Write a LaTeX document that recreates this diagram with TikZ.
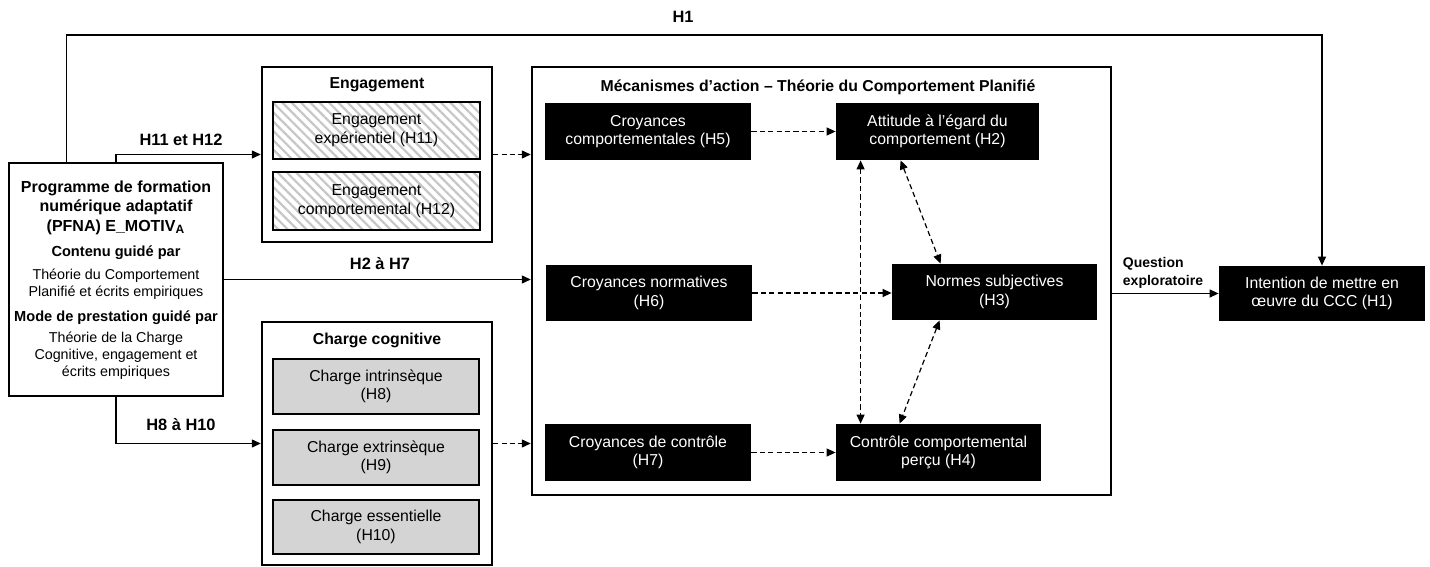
\documentclass[tikz,border=0pt]{standalone}
\usepackage{fontspec}
\setmainfont{Liberation Sans}
\usetikzlibrary{arrows.meta,patterns.meta}
\begin{document}
\begin{tikzpicture}[x=0.5pt,y=-0.5pt,
  box/.style={rectangle,inner sep=0pt,align=center,font=\fontsize{7.9}{9.3}\selectfont},
  outer/.style={box,draw,line width=1.2pt},
  blk/.style={box,fill=black,text=white},
  hatchbox/.style={box,draw,line width=1.1pt,
    pattern={Lines[angle=-45,distance=3.3pt,line width=1.1pt]},pattern color=black!22},
  shadebox/.style={box,draw,line width=1.1pt,fill=black!17},
  link/.style={line width=0.6pt,-{Triangle[length=4.5pt,width=4pt]}},
  dlink/.style={link,dash pattern=on 2.6pt off 1.6pt},
  ddlink/.style={dlink,{Triangle[length=4.5pt,width=4pt]}-{Triangle[length=4.5pt,width=4pt]}},
  lbl/.style={inner sep=0pt,font=\bfseries\fontsize{8.2}{9.5}\selectfont},
  ttl/.style={inner sep=0pt,font=\bfseries\fontsize{7.9}{9.3}\selectfont},
  sub/.style={inner sep=0pt,align=center,font=\bfseries\fontsize{7.3}{8.6}\selectfont},
  body/.style={inner sep=0pt,align=center,font=\fontsize{7.15}{8.5}\selectfont}
]
\useasboundingbox (0,0) rectangle (1430,567);

% --- programme (left) ---
\node[outer,minimum width=107pt,minimum height=116.5pt] (main) at (116,279.5) {};
\node[inner sep=0pt,align=center,font=\bfseries\fontsize{8}{9.75}\selectfont] (mtitle) at (116,207.5)
  {Programme de formation\\numérique adaptatif\\(PFNA) E\_MOTIV\textsubscript{A}};
\node[sub] (msub1) at (116,253) {Contenu guidé par};
\node[body] (mbody1) at (116,284.5) {Théorie du Comportement\\Planifié et écrits empiriques};
\node[sub] (msub2) at (116,318) {Mode de prestation guidé par};
\node[body] (mbody2) at (116,355.5) {Théorie de la Charge\\Cognitive, engagement et\\écrits empiriques};

% --- engagement ---
\node[outer,minimum width=115pt,minimum height=87.5pt] (eng) at (377,154.5) {};
\node[ttl] (engt) at (377,85) {Engagement};
\node[hatchbox,minimum width=103.5pt,minimum height=28.5pt] (eng1) at (376.5,130.5)
  {Engagement\\expérientiel (H11)};
\node[hatchbox,minimum width=103.5pt,minimum height=29pt] (eng2) at (376.5,201)
  {Engagement\\comportemental (H12)};

% --- charge cognitive ---
\node[outer,minimum width=115pt,minimum height=121.5pt] (charge) at (377,443.5) {};
\node[ttl] (charget) at (377,340) {Charge cognitive};
\node[shadebox,minimum width=103pt,minimum height=27.5pt] (ch1) at (376,386.5) {Charge intrinsèque\\(H8)};
\node[shadebox,minimum width=103pt,minimum height=27.5pt] (ch2) at (376,457.5) {Charge extrinsèque\\(H9)};
\node[shadebox,minimum width=103pt,minimum height=27pt] (ch3) at (376,527) {Charge essentielle\\(H10)};

% --- mecanismes d'action ---
\node[outer,minimum width=289.5pt,minimum height=214pt] (mech) at (821.5,281) {};
\node[ttl] (mecht) at (818,87) {Mécanismes d’action – Théorie du Comportement Planifié};
\node[blk,minimum width=103pt,minimum height=28.5pt] (cc) at (648,131.5) {Croyances\\comportementales (H5)};
\node[blk,minimum width=101.5pt,minimum height=28.5pt] (att) at (937.5,131.5) {Attitude à l’égard du\\comportement (H2)};
\node[blk,minimum width=103pt,minimum height=28pt] (cn) at (649,293) {Croyances normatives\\(H6)};
\node[blk,minimum width=102.5pt,minimum height=28pt] (ns) at (994.5,292) {Normes subjectives\\(H3)};
\node[blk,minimum width=103pt,minimum height=28.5pt] (ctl) at (648,452.5) {Croyances de contrôle\\(H7)};
\node[blk,minimum width=102.5pt,minimum height=28.5pt] (pc) at (938.5,452.5) {Contrôle comportemental\\perçu (H4)};

% --- intention ---
\node[blk,minimum width=103pt,minimum height=27.5pt] (int) at (1322,293.5) {Intention de mettre en\\œuvre du CCC (H1)};

% --- connectors from the programme ---
\coordinate (h1bar) at (683,35);
\draw[link] ([xshift=29.5pt]main.north west) |- (h1bar) -| (int.north);
\node[lbl] (h1lbl) at (683,17) {H1};

\draw[link] (main.north) |- (eng.west);
\node[lbl] (h11lbl) at (181,140) {H11 et H12};

\draw[link] (main.east) -- (main.east -| mech.west);
\node[lbl] (h2lbl) at (380,264) {H2 à H7};

\draw[link] (main.south) |- (charge.west);
\node[lbl] (h8lbl) at (181,425) {H8 à H10};

% --- dashed links into the mechanisms ---
\draw[dlink] (eng.east) -- (eng.east -| mech.west);
\draw[dlink] (charge.east) -- (charge.east -| mech.west);
\draw[dlink] (cc.east) -- (cc.east -| att.west);
\draw[dlink] (cn.east) -- (cn.east -| ns.west);
\draw[dlink] (ctl.east) -- (ctl.east -| pc.west);

% --- reciprocal links between the three determinants ---
\draw[ddlink] ([xshift=12.5pt]att.south west) -- ([xshift=12.5pt]pc.north west);
\draw[ddlink] ([xshift=32.5pt]att.south west) -- ([xshift=24.5pt]ns.north west);
\draw[ddlink] ([xshift=24pt]ns.south west) -- ([xshift=32pt]pc.north west);

% --- exploratory question ---
\draw[link] (int.west -| mech.east) -- (int.west);
\node[inner sep=0pt,align=left,font=\bfseries\fontsize{7}{9}\selectfont] (qlbl) at (1163,273) {Question\\exploratoire};

\end{tikzpicture}
\end{document}
